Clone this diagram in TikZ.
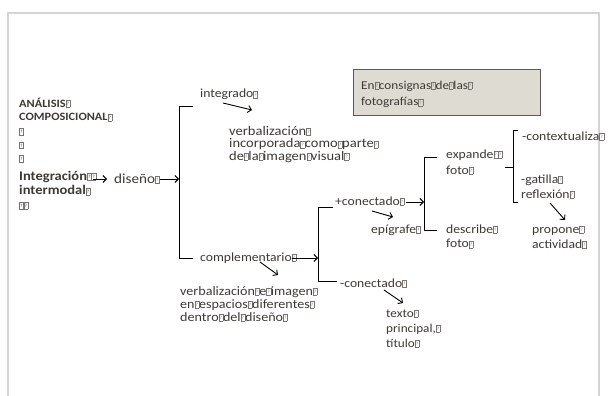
\documentclass[tikz,border=0pt]{standalone}
\usepackage{fontspec}
\setmainfont{Carlito}[FakeStretch=1.1]
\usepackage{tikz}
\usetikzlibrary{arrows.meta}

\definecolor{ink}{HTML}{3D3934}
\definecolor{boxfill}{HTML}{DEDCD2}
\definecolor{boxline}{HTML}{5E5953}
\definecolor{pageline}{HTML}{D4D4D4}

\newcommand{\qm}{{\color{ink!70}\fboxsep=0pt\fboxrule=0.3pt\fbox{\makebox[3.8pt]{\rule{0pt}{6.6pt}\raisebox{1.3pt}{\fontsize{4.8}{5}\selectfont ?}}}}}
\newcommand{\rows}[1]{\vtop{\lineskiplimit=-20pt\lineskip=0pt\halign{##\hfil\cr#1\crcr}}}

\tikzset{
  lbl/.style={anchor=base west, inner sep=0pt, text=ink, font=\fontsize{12.4}{15}\selectfont},
  wide/.style={font=\fontsize{13.2}{12.5}\selectfont},
  arr/.style={-{Straight Barb[length=3.5pt,width=7pt]}, line width=0.9pt},
  brk/.style={line width=0.9pt}
}

\begin{document}
\begin{tikzpicture}[x=1pt,y=-1pt]
\useasboundingbox (0,0) rectangle (608,396);
\draw[pageline, line width=1.6pt] (8,396) -- (8,13) -- (599,13) -- (599,396);

\draw[boxline, fill=boxfill, line width=0.8pt] (353,69) rectangle (540,115);
\node[lbl, font=\fontsize{12}{16.5}\selectfont] (cons) at (361,89) {\rows{En\qm consignas\qm de\qm las\qm\cr fotografías\qm}};

\node[lbl, font=\bfseries\fontsize{11.2}{13.8}\selectfont] (titulo) at (19,107) {\rows{ANÁLISIS\qm\cr COMPOSICIONAL\qm\cr \qm\cr \qm\cr \qm}};
\node[lbl, font=\bfseries\fontsize{13.2}{14.5}\selectfont] (integ) at (19,180) {\rows{Integración\qm\qm\cr intermodal\qm\cr \qm\qm}};
\node[lbl, font=\fontsize{13.8}{15}\selectfont] (diseno) at (114,183) {diseño\qm};

\node[lbl] (integrado) at (200,98) {integrado\qm};
\node[lbl, wide] (verbA) at (229,135) {\rows{verbalización\qm\cr incorporada\qm como\qm parte\qm\cr de\qm la\qm imagen\qm visual\qm}};
\node[lbl] (compl) at (200,261) {complementario\qm};
\node[lbl, font=\fontsize{12.8}{13}\selectfont] (verbB) at (180,295) {\rows{verbalización\qm e\qm imagen\qm\cr en\qm espacios\qm diferentes\qm\cr dentro\qm del\qm diseño\qm}};

\node[lbl] (masconect) at (335,205) {+conectado\qm};
\node[lbl] (epigrafe) at (371,233) {epígrafe\qm};
\node[lbl, font=\fontsize{12.4}{16}\selectfont] (expande) at (446,158) {\rows{expande\qm\qm\cr foto\qm}};
\node[lbl, font=\fontsize{12.4}{14.5}\selectfont] (describe) at (446,233) {\rows{describe\qm\cr foto\qm}};
\node[lbl] (context) at (522,140) {-contextualiza\qm};
\node[lbl] (gatilla) at (521,183) {\rows{-gatilla\qm\cr reflexión\qm}};
\node[lbl] (propone) at (532,233) {\rows{propone\qm\cr actividad\qm}};
\node[lbl] (menconect) at (340,287) {-conectado\qm};
\node[lbl, font=\fontsize{12}{15}\selectfont] (texto) at (386,317) {\rows{texto\qm\cr principal,\qm\cr título\qm}};

\coordinate (integ-out) at (93,179);
\coordinate (diseno-in) at (107,179);
\coordinate (diseno-out) at (160,179);
\coordinate (llave1) at (179,179);
\coordinate (integrado-out) at (223,103);
\coordinate (verbA-in) at (252,110);
\coordinate (compl-out) at (292,258);
\coordinate (llave2) at (318,258);
\coordinate (compl-down) at (260,262);
\coordinate (verbB-in) at (278,275);
\coordinate (masconect-out) at (406,202);
\coordinate (llave3) at (424,202);
\coordinate (masconect-down) at (372,211);
\coordinate (epigrafe-in) at (393,217);
\coordinate (gatilla-out) at (550,203);
\coordinate (propone-in) at (565,220);
\coordinate (menconect-out) at (384,290);
\coordinate (texto-in) at (403,303);

\draw[arr] (integ-out) -- (diseno-in);
\draw[arr] (diseno-out) -- (llave1);
\draw[arr] (integrado-out) -- (verbA-in);
\draw[arr] (compl-out) -- (llave2);
\draw[arr] (compl-down) -- (verbB-in);
\draw[arr] (masconect-out) -- (llave3);
\draw[arr] (masconect-down) -- (epigrafe-in);
\draw[arr] (gatilla-out) -- (propone-in);
\draw[arr] (menconect-out) -- (texto-in);

\draw[brk] (193,106) -- (179,106) -- (179,258) -- (193,258);
\draw[brk] (333,207) -- (318,207) -- (318,281) -- (337,281);
\draw[brk] (437,157) -- (424,157) -- (424,230) -- (437,230);
\draw[brk] (518,130) -- (513,130) -- (513,202) -- (518,202);
\draw[brk] (505,167) -- (513,167);
\end{tikzpicture}
\end{document}
